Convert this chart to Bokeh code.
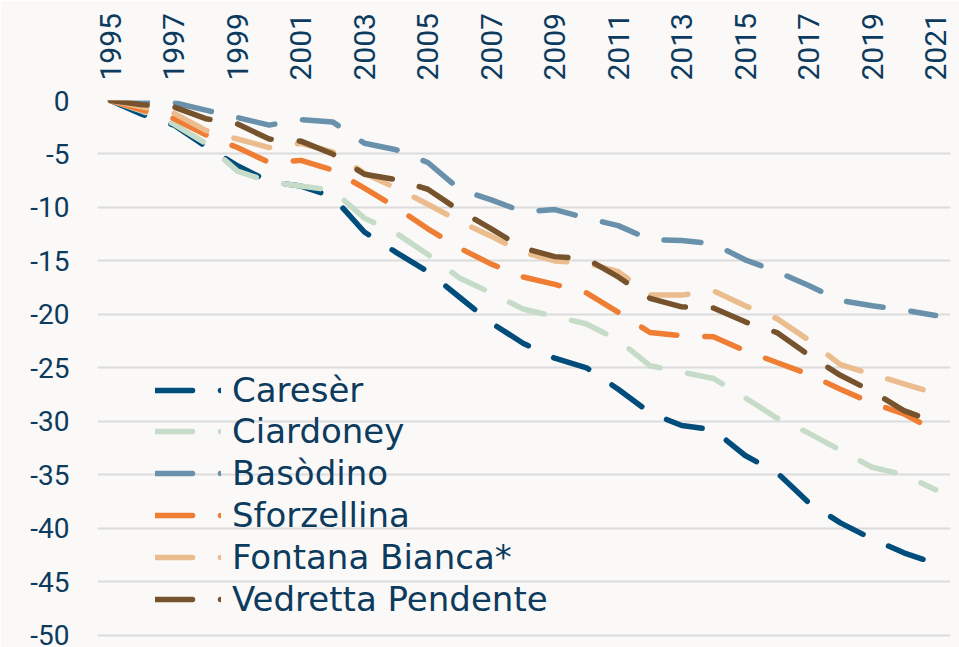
import math
from bokeh.plotting import figure
from bokeh.models import Range1d, FixedTicker, Legend, LegendItem
from bokeh.embed import file_html
from bokeh.resources import INLINE

years = list(range(1995, 2022))

careser = [0, -1.3, -2.3, -4.3, -6.1, -7.6, -8.0, -9.0, -12.3, -14.2, -16.0, -18.4, -20.8, -22.7,
           -24.1, -25.0, -27.0, -29.2, -30.4, -30.8, -33.2, -34.8, -37.6, -39.5, -41.0, -42.3, -43.3]
ciardoney = [0, -1.0, -2.2, -4.0, -6.6, -7.6, -8.0, -8.4, -11.0, -12.4, -14.4, -16.6, -18.0, -19.5,
             -20.2, -20.9, -22.4, -24.8, -25.4, -26.0, -27.8, -29.7, -31.1, -32.7, -34.3, -35.0, -36.4]
basodino = [0, -0.1, -0.2, -0.9, -1.6, -2.3, -1.8, -2.0, -4.0, -4.6, -5.8, -8.3, -9.3, -10.4,
            -10.2, -11.0, -11.7, -13.0, -13.1, -13.4, -14.9, -16.0, -17.3, -18.7, -19.2, -19.6, -20.1]
sforzellina = [0, -0.9, -1.7, -3.2, -4.4, -5.8, -5.6, -6.5, -8.2, -10.0, -12.0, -13.8, -15.3, -16.5,
               -17.2, -18.0, -19.8, -21.7, -22.0, -22.1, -23.4, -24.5, -25.6, -27.0, -28.3, -29.3, -30.9]
fontana_bianca = [0, -0.6, -1.2, -2.8, -3.6, -4.4, -4.0, -4.8, -6.8, -8.2, -9.7, -11.3, -12.7, -14.2,
                  -15.0, -15.2, -16.0, -18.2, -18.2, -17.8, -19.2, -20.4, -22.4, -24.7, -25.6, -26.5, -27.4]
vedretta_pendente = [0, -0.4, -0.6, -1.7, -2.2, -3.6, -3.8, -5.0, -6.9, -7.4, -8.3, -10.3, -12.0, -13.8,
                     -14.6, -14.8, -16.5, -18.5, -19.3, -19.4, -20.7, -21.7, -23.8, -25.7, -27.2, -29.0, -30.1]

series_names = ["Caresèr", "Ciardoney", "Basòdino", "Sforzellina", "Fontana Bianca*", "Vedretta Pendente"]
series_values = [careser, ciardoney, basodino, sforzellina, fontana_bianca, vedretta_pendente]
series_colors = ["#004c7b", "#c7dcc8", "#6a91ab", "#ef7d33", "#ebbd8e", "#76532d"]

x_ticks = list(range(1995, 2022, 2))
y_ticks = list(range(-50, 1, 5))
y_tick_labels = ["-50", "-45", "-40", "-35", "-30", "-25", "-20", "-15", "-10", "-5", "0"]

TEXT = "#0d3b5e"
FONT = "Roboto"
LEGEND_FONT = "DejaVu Sans"

p = figure(width=959, height=647, output_backend="svg", toolbar_location=None,
           x_axis_location="above",
           x_range=Range1d(1994.59, 2021.47), y_range=Range1d(-50.5, 0.0))
p.min_border_left = 97
p.min_border_top = 100
p.min_border_right = 9
p.min_border_bottom = 7
p.background_fill_color = "#faf9f8"
p.border_fill_color = "#faf9f8"
p.outline_line_color = None

p.xgrid.grid_line_color = None
p.ygrid.grid_line_color = "#dcdcdc"
p.ygrid.grid_line_width = 2
p.ygrid.ticker = FixedTicker(ticks=y_ticks)

xa = p.xaxis[0]
xa.ticker = FixedTicker(ticks=x_ticks)
xa.major_label_orientation = math.pi / 2
xa.axis_line_color = None
xa.major_tick_line_color = None
xa.minor_tick_line_color = None
xa.major_label_text_font = FONT
xa.major_label_text_font_size = "30px"
xa.major_label_text_color = TEXT
xa.major_label_standoff = 14

ya = p.yaxis[0]
ya.ticker = FixedTicker(ticks=y_ticks)
ya.major_label_overrides = dict(zip(y_ticks, y_tick_labels))
ya.axis_line_color = None
ya.major_tick_line_color = None
ya.minor_tick_line_color = None
ya.major_label_text_font = FONT
ya.major_label_text_font_size = "28px"
ya.major_label_text_color = TEXT
ya.major_label_standoff = 22

# one legend per row so that row spacing matches the reference
row_h = 42
row_centers = [250, 209, 167, 125, 83, 41]  # px above the frame bottom
for name, vals, col, rc in zip(series_names, series_values, series_colors, row_centers):
    r = p.line(years, vals, line_color=col, line_width=5.5, line_dash="37 28",
               line_cap="round", line_join="round")
    lg = Legend(items=[LegendItem(label=name, renderers=[r])], location=(58, rc - row_h // 2))
    lg.background_fill_alpha = 0
    lg.border_line_color = None
    lg.padding = 0
    lg.margin = 0
    lg.spacing = 0
    lg.label_height = row_h
    lg.glyph_height = row_h
    lg.glyph_width = 66
    lg.label_standoff = 11
    lg.label_text_font = LEGEND_FONT
    lg.label_text_font_size = "34px"
    lg.label_text_color = TEXT
    p.add_layout(lg, "center")

open("out.html", "w").write(file_html(p, INLINE))
